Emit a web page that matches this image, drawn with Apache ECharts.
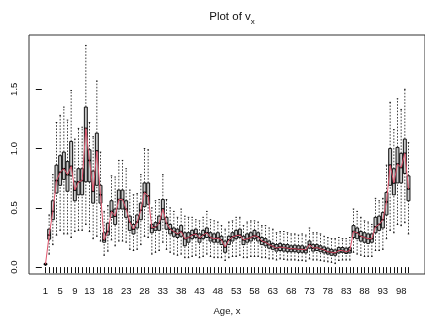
<!DOCTYPE html>
<html>
<head>
<meta charset="utf-8">
<script src="https://cdn.jsdelivr.net/npm/echarts@6/dist/echarts.min.js"></script>
<style>
  html, body { margin: 0; padding: 0; background: #fff; }
  #chart { width: 425px; height: 321px; }
</style>
</head>
<body>
<div id="chart"></div>
<script>
// Ages 1..100 and the five-number summary of v_x at each age
const ages = Array.from({ length: 100 }, (_, i) => i + 1);

const whiskerLow = [
  0.015, 0.11, 0.19, 0.27, 0.31, 0.28, 0.28, 0.25, 0.30, 0.31,
  0.31, 0.36, 0.30, 0.24, 0.26, 0.22, 0.10, 0.135, 0.23, 0.18,
  0.22, 0.22, 0.21, 0.15, 0.14, 0.15, 0.19, 0.26, 0.25, 0.11,
  0.125, 0.14, 0.21, 0.15, 0.125, 0.11, 0.10, 0.11, 0.08, 0.08,
  0.09, 0.10, 0.08, 0.09, 0.11, 0.09, 0.08, 0.08, 0.08, 0.056,
  0.08, 0.09, 0.09, 0.10, 0.08, 0.08, 0.09, 0.09, 0.09, 0.08,
  0.08, 0.07, 0.07, 0.06, 0.07, 0.065, 0.06, 0.06, 0.06, 0.055,
  0.055, 0.05, 0.07, 0.06, 0.06, 0.055, 0.05, 0.045, 0.04, 0.03,
  0.056, 0.06, 0.06, 0.06, 0.125, 0.11, 0.10, 0.09, 0.09, 0.09,
  0.14, 0.14, 0.15, 0.24, 0.31, 0.29, 0.36, 0.35, 0.375, 0.28
];

const lowerQuartile = [
  0.02, 0.236, 0.40, 0.625, 0.69, 0.74, 0.64, 0.77, 0.56, 0.61,
  0.61, 0.72, 0.72, 0.54, 0.69, 0.54, 0.21, 0.27, 0.42, 0.36,
  0.49, 0.49, 0.42, 0.31, 0.28, 0.33, 0.40, 0.51, 0.53, 0.29,
  0.31, 0.31, 0.40, 0.32, 0.28, 0.26, 0.25, 0.26, 0.18, 0.21,
  0.24, 0.25, 0.21, 0.24, 0.25, 0.22, 0.21, 0.21, 0.19, 0.125,
  0.19, 0.22, 0.24, 0.25, 0.19, 0.21, 0.22, 0.24, 0.22, 0.19,
  0.18, 0.16, 0.15, 0.135, 0.14, 0.135, 0.13, 0.13, 0.13, 0.125,
  0.125, 0.12, 0.16, 0.135, 0.14, 0.13, 0.12, 0.11, 0.10, 0.10,
  0.12, 0.125, 0.115, 0.12, 0.25, 0.24, 0.22, 0.21, 0.20, 0.21,
  0.29, 0.31, 0.33, 0.44, 0.69, 0.61, 0.71, 0.71, 0.79, 0.56
];

const medians = [
  0.025, 0.27, 0.47, 0.73, 0.80, 0.83, 0.78, 0.85, 0.65, 0.72,
  0.73, 1.17, 0.90, 0.64, 0.98, 0.61, 0.23, 0.30, 0.47, 0.43,
  0.57, 0.57, 0.49, 0.38, 0.32, 0.38, 0.48, 0.63, 0.60, 0.33,
  0.34, 0.37, 0.49, 0.37, 0.32, 0.30, 0.28, 0.30, 0.24, 0.25,
  0.27, 0.28, 0.245, 0.27, 0.29, 0.25, 0.24, 0.245, 0.23, 0.17,
  0.23, 0.255, 0.265, 0.27, 0.23, 0.24, 0.25, 0.265, 0.255, 0.22,
  0.21, 0.19, 0.175, 0.16, 0.17, 0.165, 0.16, 0.155, 0.155, 0.15,
  0.15, 0.145, 0.19, 0.16, 0.165, 0.155, 0.145, 0.13, 0.125, 0.12,
  0.14, 0.14, 0.13, 0.14, 0.30, 0.29, 0.26, 0.25, 0.24, 0.24,
  0.34, 0.36, 0.40, 0.55, 0.86, 0.71, 0.87, 0.84, 0.96, 0.66
];

const upperQuartile = [
  0.03, 0.32, 0.56, 0.86, 0.94, 0.97, 0.89, 1.06, 0.72, 0.83,
  0.83, 1.35, 0.99, 0.81, 1.13, 0.69, 0.29, 0.37, 0.56, 0.49,
  0.65, 0.65, 0.56, 0.43, 0.36, 0.44, 0.54, 0.71, 0.71, 0.36,
  0.375, 0.43, 0.57, 0.42, 0.36, 0.33, 0.32, 0.35, 0.29, 0.29,
  0.31, 0.32, 0.28, 0.31, 0.33, 0.29, 0.28, 0.29, 0.26, 0.22,
  0.26, 0.29, 0.31, 0.32, 0.26, 0.28, 0.29, 0.31, 0.29, 0.25,
  0.24, 0.22, 0.20, 0.19, 0.20, 0.19, 0.19, 0.18, 0.185, 0.18,
  0.18, 0.17, 0.22, 0.19, 0.19, 0.18, 0.17, 0.16, 0.15, 0.145,
  0.165, 0.165, 0.16, 0.165, 0.35, 0.33, 0.30, 0.29, 0.28, 0.28,
  0.42, 0.43, 0.46, 0.63, 1.00, 0.83, 1.01, 0.96, 1.08, 0.77
];

const whiskerHigh = [
  0.035, 0.44, 0.78, 1.22, 1.28, 1.35, 1.24, 1.49, 1.08, 1.17,
  1.18, 1.87, 1.22, 1.10, 1.57, 0.97, 0.47, 0.52, 0.77, 0.76,
  0.90, 0.90, 0.83, 0.65, 0.61, 0.62, 0.78, 1.00, 0.99, 0.50,
  0.56, 0.57, 0.78, 0.57, 0.50, 0.47, 0.42, 0.49, 0.43, 0.42,
  0.42, 0.40, 0.39, 0.42, 0.47, 0.40, 0.39, 0.38, 0.35, 0.32,
  0.38, 0.39, 0.42, 0.42, 0.35, 0.38, 0.39, 0.39, 0.38, 0.35,
  0.35, 0.33, 0.32, 0.29, 0.30, 0.30, 0.29, 0.28, 0.28, 0.27,
  0.28, 0.27, 0.33, 0.29, 0.29, 0.28, 0.26, 0.25, 0.24, 0.24,
  0.25, 0.24, 0.24, 0.25, 0.49, 0.47, 0.42, 0.39, 0.38, 0.36,
  0.58, 0.56, 0.58, 0.86, 1.39, 1.16, 1.42, 1.33, 1.50, 1.05
];

// Axis annotation
const xTickLabels = [1, 5, 9, 13, 18, 23, 28, 33, 38, 43, 48, 53, 58, 63, 68, 73, 78, 83, 88, 93, 98];
const yTickLabels = [0, 0.5, 1, 1.5];

const boxData = ages.map((a, i) => [a, whiskerLow[i], lowerQuartile[i], medians[i], upperQuartile[i], whiskerHigh[i]]);
const medianLine = ages.map((a, i) => [a, medians[i]]);

const FONT = '"Liberation Sans", Arial, Helvetica, sans-serif';

function renderBox(params, api) {
  const x = api.value(0);
  const lo = api.coord([x, api.value(1)]);
  const q1 = api.coord([x, api.value(2)]);
  const md = api.coord([x, api.value(3)]);
  const q3 = api.coord([x, api.value(4)]);
  const hi = api.coord([x, api.value(5)]);
  const bw = api.size([0.8, 0])[0];
  const cx = lo[0];
  const half = bw / 2;
  const staple = bw / 4;
  const dashed = { stroke: '#111', lineWidth: 0.8, lineDash: [1.6, 1.6] };
  const solid = { stroke: '#111', lineWidth: 1 };
  return {
    type: 'group',
    children: [
      { type: 'line', shape: { x1: cx, y1: lo[1], x2: cx, y2: q1[1] }, style: dashed },
      { type: 'line', shape: { x1: cx, y1: q3[1], x2: cx, y2: hi[1] }, style: dashed },
      { type: 'line', shape: { x1: cx - staple, y1: lo[1], x2: cx + staple, y2: lo[1] }, style: solid },
      { type: 'line', shape: { x1: cx - staple, y1: hi[1], x2: cx + staple, y2: hi[1] }, style: solid },
      {
        type: 'rect',
        shape: { x: cx - half, y: q3[1], width: bw, height: Math.max(q1[1] - q3[1], 0.5) },
        style: { fill: '#c8c8c8', stroke: '#111', lineWidth: 1 }
      },
      { type: 'line', shape: { x1: cx - half, y1: md[1], x2: cx + half, y2: md[1] }, style: { stroke: '#000', lineWidth: 1.6 } }
    ]
  };
}

const chart = echarts.init(document.getElementById('chart'), null, { renderer: 'canvas' });

chart.setOption({
  animation: false,
  backgroundColor: '#fff',
  title: {
    text: '{m|Plot of v}{s|x}',
    left: 227,
    top: 4,
    textAlign: 'center',
    textStyle: {
      fontWeight: 'normal',
      rich: {
        m: { fontFamily: FONT, fontSize: 11.5, fontWeight: 'normal', color: '#111', verticalAlign: 'bottom', lineHeight: 14 },
        s: { fontFamily: FONT, fontSize: 8, fontWeight: 'normal', color: '#111', verticalAlign: 'bottom', lineHeight: 14, padding: [0, 0, -3, 0] }
      }
    }
  },
  grid: {
    left: 29, top: 35, width: 397, height: 242,
    show: true, borderColor: '#333', borderWidth: 1, backgroundColor: 'transparent'
  },
  xAxis: {
    type: 'value',
    min: -3.5, max: 104.5,
    name: 'Age, x',
    nameLocation: 'middle',
    nameGap: 32,
    nameTextStyle: { fontFamily: FONT, fontSize: 9.5, color: '#111' },
    axisLine: { show: false },
    axisTick: { show: true, length: 6, customValues: ages, lineStyle: { color: '#111', width: 1 } },
    axisLabel: { customValues: xTickLabels, margin: 12, fontFamily: FONT, fontSize: 9.5, color: '#111' },
    splitLine: { show: false }
  },
  yAxis: {
    type: 'value',
    min: -0.058, max: 1.958,
    axisLine: { show: false },
    axisTick: { show: true, length: 6, customValues: yTickLabels, lineStyle: { color: '#111', width: 1 } },
    axisLabel: {
      customValues: yTickLabels, rotate: 90, margin: 10,
      fontFamily: FONT, fontSize: 9.5, color: '#111',
      formatter: v => v.toFixed(1)
    },
    splitLine: { show: false }
  },
  series: [
    {
      type: 'custom',
      renderItem: renderBox,
      encode: { x: 0, y: [1, 2, 3, 4, 5] },
      data: boxData,
      z: 2
    },
    {
      type: 'line',
      data: medianLine,
      showSymbol: false,
      symbol: 'none',
      lineStyle: { color: '#DF536B', width: 1 },
      z: 3
    }
  ]
});
</script>
</body>
</html>
